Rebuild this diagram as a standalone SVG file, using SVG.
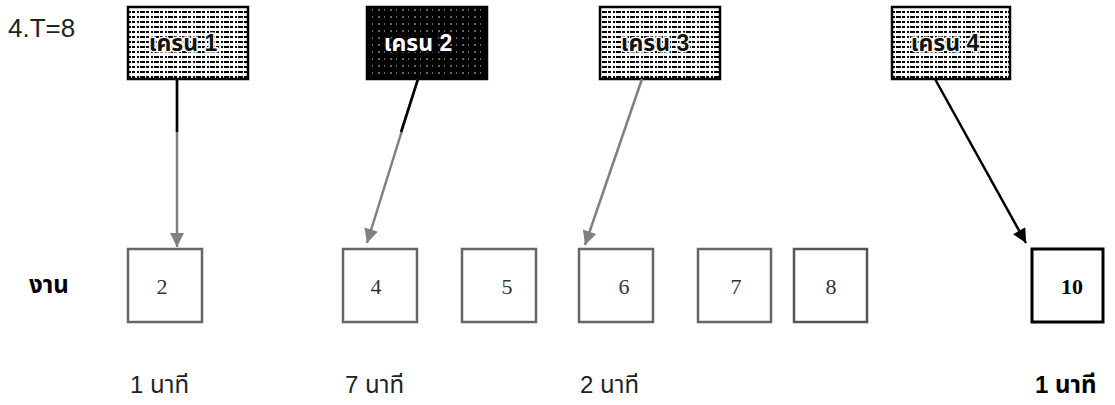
<svg xmlns="http://www.w3.org/2000/svg" width="1115" height="405" viewBox="0 0 1115 405">
<style>
.lbl{font-family:"Liberation Sans","Noto Sans Thai",sans-serif;font-size:24px;fill:#222}
.num{font-family:"Liberation Serif",serif;font-size:22px;fill:#333;text-anchor:middle}
.job{fill:#fff;stroke:#666;stroke-width:2.5}
.mach{stroke:#000;stroke-width:2.5}
.mtxt{font-family:"Liberation Sans","Noto Sans Thai",sans-serif;font-size:23px;font-weight:bold;text-anchor:middle;fill:#111;stroke:#fff;stroke-width:3;paint-order:stroke}
.gray{stroke:#808080;stroke-width:2.5;fill:none}
.blk{stroke:#000;stroke-width:2.5;fill:none}
</style>
<defs>
<pattern id="hatch" width="14" height="5" patternUnits="userSpaceOnUse">
<rect width="14" height="5" fill="#fff"/>
<line x1="0" y1="2" x2="14" y2="2" stroke="#000" stroke-width="1.8" stroke-dasharray="5 1 3 2 2 1"/>
</pattern>
<pattern id="dark" width="12" height="7" patternUnits="userSpaceOnUse">
<rect width="12" height="7" fill="#000"/>
<line x1="0" y1="3" x2="12" y2="3" stroke="#fff" stroke-width="0.8" stroke-dasharray="1 5 2 4"/>
</pattern>
<marker id="ag" viewBox="0 0 10 10" refX="10" refY="5" markerWidth="16" markerHeight="14" markerUnits="userSpaceOnUse" orient="auto">
<path d="M0,0 L10,5 L0,10 Z" fill="#808080"/>
</marker>
<marker id="ak" viewBox="0 0 10 10" refX="10" refY="5" markerWidth="16" markerHeight="14" markerUnits="userSpaceOnUse" orient="auto">
<path d="M0,0 L10,5 L0,10 Z" fill="#000"/>
</marker>
</defs>
<rect width="1115" height="405" fill="#fff"/>
<text class="lbl" x="8" y="37" style="font-size:26px">4.T=8</text>

<g id="m1"><rect class="mach" x="128" y="7" width="120" height="72" fill="url(#hatch)"/><text class="mtxt" x="183" y="51">เครน 1</text></g>
<g id="m2"><rect class="mach" x="367" y="7" width="120" height="72" fill="url(#dark)"/><text class="mtxt" x="418" y="51" style="fill:#fff;stroke:#000">เครน 2</text></g>
<g id="m3"><rect class="mach" x="600" y="7" width="120" height="72" fill="url(#hatch)"/><text class="mtxt" x="655" y="51">เครน 3</text></g>
<g id="m4"><rect class="mach" x="892" y="7" width="118" height="72" fill="url(#hatch)"/><text class="mtxt" x="945" y="51">เครน 4</text></g>

<g id="connectors">
<line class="gray" x1="177" y1="79" x2="177" y2="247" marker-end="url(#ag)"/>
<line class="blk" x1="177" y1="79" x2="177" y2="132"/>
<line class="gray" x1="418" y1="79" x2="367" y2="243" marker-end="url(#ag)"/>
<line class="blk" x1="418" y1="79" x2="401" y2="132"/>
<line class="gray" x1="642" y1="79" x2="585" y2="245" marker-end="url(#ag)"/>
<line class="blk" x1="935" y1="79" x2="1026" y2="243" marker-end="url(#ak)"/>
</g>

<text class="lbl" x="29" y="293" style="font-weight:bold;fill:#000">งาน</text>
<g id="j2"><rect class="job" x="128" y="249" width="74" height="73"/><text class="num" x="162" y="294">2</text></g>
<g id="j4"><rect class="job" x="343" y="249" width="74" height="73"/><text class="num" x="376" y="294">4</text></g>
<g id="j5"><rect class="job" x="462" y="249" width="74" height="73"/><text class="num" x="507" y="294">5</text></g>
<g id="j6"><rect class="job" x="579" y="249" width="74" height="73"/><text class="num" x="624" y="294">6</text></g>
<g id="j7"><rect class="job" x="698" y="249" width="73" height="73"/><text class="num" x="736" y="294">7</text></g>
<g id="j8"><rect class="job" x="794" y="249" width="73" height="73" style="stroke:#555"/><text class="num" x="831" y="294">8</text></g>
<g id="j10"><rect class="job" x="1032" y="249" width="71" height="73" style="stroke:#000;stroke-width:3"/><text class="num" x="1072" y="294" style="font-weight:bold;fill:#000">10</text></g>

<text class="lbl" x="130" y="393">1 นาที</text>
<text class="lbl" x="345" y="393">7 นาที</text>
<text class="lbl" x="580" y="393">2 นาที</text>
<text class="lbl" x="1035" y="393" style="font-weight:bold;fill:#000">1 นาที</text>
</svg>
